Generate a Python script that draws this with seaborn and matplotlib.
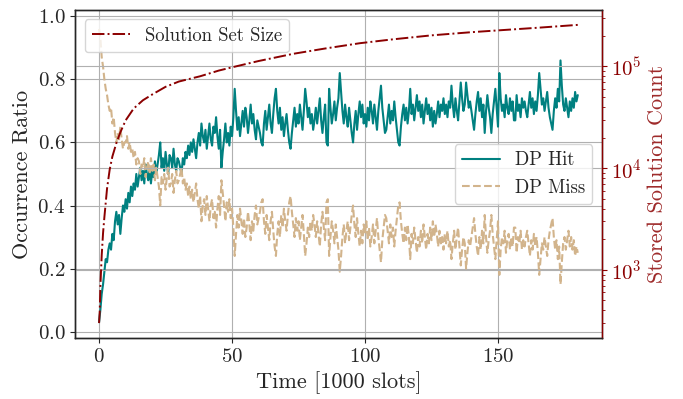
import numpy as np
import pandas as pd
import seaborn as sns
import matplotlib.pyplot as plt

# time axis, one sample every 500 slots (unit = 1000 slots)
time = np.arange(0, 180.5, 0.5)

dp_hit = [
    0.03, 0.07, 0.12, 0.15, 0.19, 0.23, 0.22, 0.26, 0.28, 0.26, 0.31, 0.29, 0.35, 0.38, 0.34, 0.37, 0.31, 0.36, 0.40, 0.38,
    0.42, 0.39, 0.44, 0.41, 0.46, 0.43, 0.47, 0.45, 0.50, 0.46, 0.49, 0.52, 0.48, 0.51, 0.47, 0.53, 0.50, 0.48, 0.52, 0.47,
    0.51, 0.49, 0.54, 0.50, 0.53, 0.56, 0.60, 0.52, 0.55, 0.51, 0.57, 0.53, 0.50, 0.56, 0.55, 0.52, 0.58, 0.53, 0.51, 0.55,
    0.54, 0.52, 0.50, 0.55, 0.53, 0.57, 0.55, 0.59, 0.56, 0.60, 0.57, 0.61, 0.58, 0.55, 0.60, 0.63, 0.59, 0.66, 0.62, 0.60,
    0.64, 0.58, 0.62, 0.66, 0.61, 0.59, 0.65, 0.63, 0.68, 0.62, 0.58, 0.64, 0.52, 0.57, 0.61, 0.66, 0.60, 0.63, 0.59, 0.65,
    0.62, 0.68, 0.77, 0.70, 0.64, 0.68, 0.62, 0.66, 0.70, 0.65, 0.71, 0.68, 0.63, 0.67, 0.72, 0.66, 0.69, 0.64, 0.61, 0.67,
    0.65, 0.63, 0.60, 0.59, 0.66, 0.70, 0.64, 0.68, 0.72, 0.66, 0.63, 0.69, 0.74, 0.77, 0.70, 0.66, 0.71, 0.64, 0.68, 0.62,
    0.66, 0.69, 0.64, 0.60, 0.58, 0.63, 0.67, 0.71, 0.65, 0.69, 0.66, 0.72, 0.68, 0.64, 0.70, 0.77, 0.73, 0.68, 0.71, 0.66,
    0.69, 0.64, 0.67, 0.71, 0.66, 0.70, 0.74, 0.67, 0.63, 0.68, 0.72, 0.60, 0.59, 0.77, 0.71, 0.66, 0.69, 0.73, 0.67, 0.71,
    0.74, 0.82, 0.76, 0.70, 0.66, 0.72, 0.68, 0.65, 0.71, 0.67, 0.63, 0.60, 0.66, 0.70, 0.64, 0.69, 0.73, 0.68, 0.72, 0.66,
    0.69, 0.65, 0.71, 0.67, 0.73, 0.70, 0.66, 0.72, 0.68, 0.64, 0.70, 0.74, 0.78, 0.71, 0.67, 0.63, 0.64, 0.68, 0.72, 0.66,
    0.70, 0.67, 0.73, 0.68, 0.64, 0.60, 0.59, 0.65, 0.69, 0.72, 0.67, 0.71, 0.66, 0.70, 0.77, 0.69, 0.72, 0.67, 0.71, 0.75,
    0.70, 0.73, 0.68, 0.72, 0.66, 0.70, 0.74, 0.69, 0.72, 0.67, 0.71, 0.65, 0.70, 0.66, 0.69, 0.73, 0.68, 0.72, 0.70, 0.74,
    0.69, 0.72, 0.68, 0.73, 0.71, 0.78, 0.72, 0.68, 0.74, 0.70, 0.67, 0.73, 0.79, 0.74, 0.70, 0.72, 0.79, 0.75, 0.71, 0.73,
    0.70, 0.67, 0.64, 0.69, 0.73, 0.76, 0.70, 0.74, 0.68, 0.72, 0.63, 0.70, 0.75, 0.71, 0.68, 0.63, 0.69, 0.73, 0.77, 0.71,
    0.65, 0.82, 0.74, 0.70, 0.72, 0.68, 0.75, 0.71, 0.69, 0.74, 0.70, 0.73, 0.67, 0.67, 0.75, 0.70, 0.72, 0.68, 0.74, 0.71,
    0.73, 0.70, 0.68, 0.72, 0.76, 0.71, 0.74, 0.69, 0.73, 0.70, 0.75, 0.82, 0.77, 0.72, 0.74, 0.70, 0.73, 0.76, 0.71, 0.68,
    0.66, 0.64, 0.70, 0.74, 0.71, 0.77, 0.73, 0.86, 0.78, 0.72, 0.70, 0.74, 0.71, 0.68, 0.73, 0.70, 0.74, 0.71, 0.76, 0.73,
    0.75,
]

dp_miss = [
    0.96, 0.93, 0.87, 0.84, 0.80, 0.77, 0.75, 0.72, 0.70, 0.71, 0.66, 0.68, 0.63, 0.60, 0.63, 0.61, 0.65, 0.61, 0.58, 0.60,
    0.60, 0.62, 0.58, 0.60, 0.57, 0.58, 0.55, 0.57, 0.53, 0.55, 0.54, 0.50, 0.53, 0.52, 0.55, 0.49, 0.52, 0.54, 0.50, 0.55,
    0.51, 0.53, 0.48, 0.52, 0.49, 0.46, 0.40, 0.49, 0.47, 0.50, 0.45, 0.49, 0.52, 0.46, 0.47, 0.50, 0.44, 0.48, 0.51, 0.47,
    0.48, 0.50, 0.52, 0.47, 0.49, 0.45, 0.47, 0.43, 0.46, 0.42, 0.45, 0.41, 0.44, 0.47, 0.42, 0.39, 0.43, 0.35, 0.40, 0.42,
    0.37, 0.43, 0.39, 0.35, 0.40, 0.42, 0.36, 0.38, 0.33, 0.39, 0.43, 0.37, 0.48, 0.44, 0.40, 0.35, 0.41, 0.38, 0.42, 0.36,
    0.39, 0.33, 0.24, 0.31, 0.37, 0.33, 0.39, 0.35, 0.31, 0.36, 0.30, 0.33, 0.38, 0.34, 0.29, 0.35, 0.32, 0.37, 0.40, 0.34,
    0.36, 0.38, 0.41, 0.42, 0.35, 0.31, 0.37, 0.33, 0.29, 0.35, 0.38, 0.32, 0.27, 0.24, 0.31, 0.35, 0.30, 0.37, 0.33, 0.39,
    0.35, 0.32, 0.37, 0.41, 0.43, 0.38, 0.34, 0.30, 0.36, 0.32, 0.35, 0.29, 0.33, 0.37, 0.31, 0.24, 0.28, 0.33, 0.30, 0.35,
    0.32, 0.37, 0.34, 0.30, 0.35, 0.31, 0.27, 0.34, 0.38, 0.33, 0.29, 0.41, 0.42, 0.24, 0.30, 0.35, 0.32, 0.28, 0.34, 0.30,
    0.26, 0.19, 0.24, 0.30, 0.34, 0.28, 0.32, 0.35, 0.29, 0.33, 0.37, 0.40, 0.34, 0.30, 0.36, 0.31, 0.27, 0.32, 0.28, 0.34,
    0.31, 0.35, 0.29, 0.33, 0.27, 0.30, 0.34, 0.28, 0.32, 0.36, 0.30, 0.26, 0.22, 0.29, 0.33, 0.37, 0.36, 0.32, 0.28, 0.34,
    0.30, 0.33, 0.27, 0.32, 0.36, 0.40, 0.41, 0.35, 0.31, 0.28, 0.33, 0.29, 0.34, 0.30, 0.23, 0.31, 0.28, 0.33, 0.29, 0.25,
    0.30, 0.27, 0.32, 0.28, 0.34, 0.30, 0.26, 0.31, 0.28, 0.33, 0.29, 0.35, 0.30, 0.34, 0.31, 0.27, 0.32, 0.28, 0.30, 0.26,
    0.31, 0.28, 0.32, 0.27, 0.29, 0.23, 0.28, 0.32, 0.26, 0.30, 0.33, 0.27, 0.21, 0.26, 0.30, 0.28, 0.20, 0.25, 0.29, 0.27,
    0.30, 0.33, 0.36, 0.31, 0.27, 0.24, 0.30, 0.26, 0.32, 0.28, 0.37, 0.30, 0.25, 0.29, 0.32, 0.37, 0.31, 0.27, 0.23, 0.29,
    0.35, 0.18, 0.26, 0.30, 0.28, 0.32, 0.25, 0.29, 0.31, 0.26, 0.30, 0.27, 0.33, 0.33, 0.25, 0.30, 0.28, 0.32, 0.26, 0.29,
    0.27, 0.30, 0.32, 0.28, 0.24, 0.29, 0.26, 0.31, 0.27, 0.30, 0.25, 0.18, 0.23, 0.28, 0.26, 0.30, 0.27, 0.24, 0.29, 0.32,
    0.34, 0.36, 0.30, 0.26, 0.29, 0.23, 0.27, 0.15, 0.22, 0.28, 0.30, 0.26, 0.29, 0.32, 0.27, 0.30, 0.26, 0.29, 0.24, 0.27,
    0.25,
]

# stored solution set size (log axis)
sol_time = [0, 0.25, 0.5, 1, 1.5, 2, 3, 4, 5, 6.5, 8, 10, 13, 16.5, 20, 25, 30, 38, 45, 50,
            60, 73, 85, 98, 110, 125, 140, 150, 165, 180]
sol_size = [300, 390, 700, 1400, 2300, 3300, 6300, 9700, 13000, 17600, 22500, 29500, 38500, 46500,
            53000, 63000, 71000, 80000, 91000, 98000, 113000, 133000, 150000, 169000, 184000,
            202000, 217000, 226000, 240000, 256000]

df = pd.DataFrame({"time": time, "hit": dp_hit, "miss": dp_miss})

sns.set_style("ticks")
plt.rcParams["font.family"] = ["cmr10", "DejaVu Serif"]
plt.rcParams["mathtext.fontset"] = "cm"
plt.rcParams["axes.formatter.use_mathtext"] = True
plt.rcParams["axes.unicode_minus"] = False

fig, ax = plt.subplots(figsize=(6.83, 3.99), dpi=100)
fig.subplots_adjust(left=0.110, right=0.881, top=0.975, bottom=0.153)

sns.lineplot(data=df, x="time", y="hit", ax=ax, color="teal", lw=1.5, label="DP Hit")
sns.lineplot(data=df, x="time", y="miss", ax=ax, color="tan", lw=1.5, linestyle="--", label="DP Miss")
ax.set_ylim(-0.02, 1.02)
ax.set_xlabel("Time [1000 slots]", fontsize=16)
ax.set_ylabel("Occurrence Ratio", fontsize=16)
ax.tick_params(labelsize=15)
ax.set_xticks([0, 50, 100, 150])
ax.grid(True, color="#b0b0b0", lw=0.8)
ax.get_legend().remove()

ax2 = ax.twinx()
sns.lineplot(x=sol_time, y=sol_size, ax=ax2, color="darkred", lw=1.4, linestyle="-.",
             label="Solution Set Size")
ax2.set_yscale("log")
ax2.set_ylabel("Stored Solution Count", color="#9e2a2a", fontsize=16)
ax2.tick_params(axis="y", which="both", colors="darkred", labelsize=15)
ax2.grid(True, axis="y", color="#b0b0b0", lw=0.8)
ax2.get_legend().remove()

for a in (ax, ax2):
    for s in a.spines.values():
        s.set_linewidth(1.0)
ax2.spines["right"].set_color("darkred")

l1 = ax2.legend(*ax2.get_legend_handles_labels(), loc="upper left", fontsize=13.5)
h, lab = ax.get_legend_handles_labels()
ax2.add_artist(l1)
ax2.legend(h, lab, loc="center right", fontsize=13.5)

plt.savefig("out.png", dpi=100)
